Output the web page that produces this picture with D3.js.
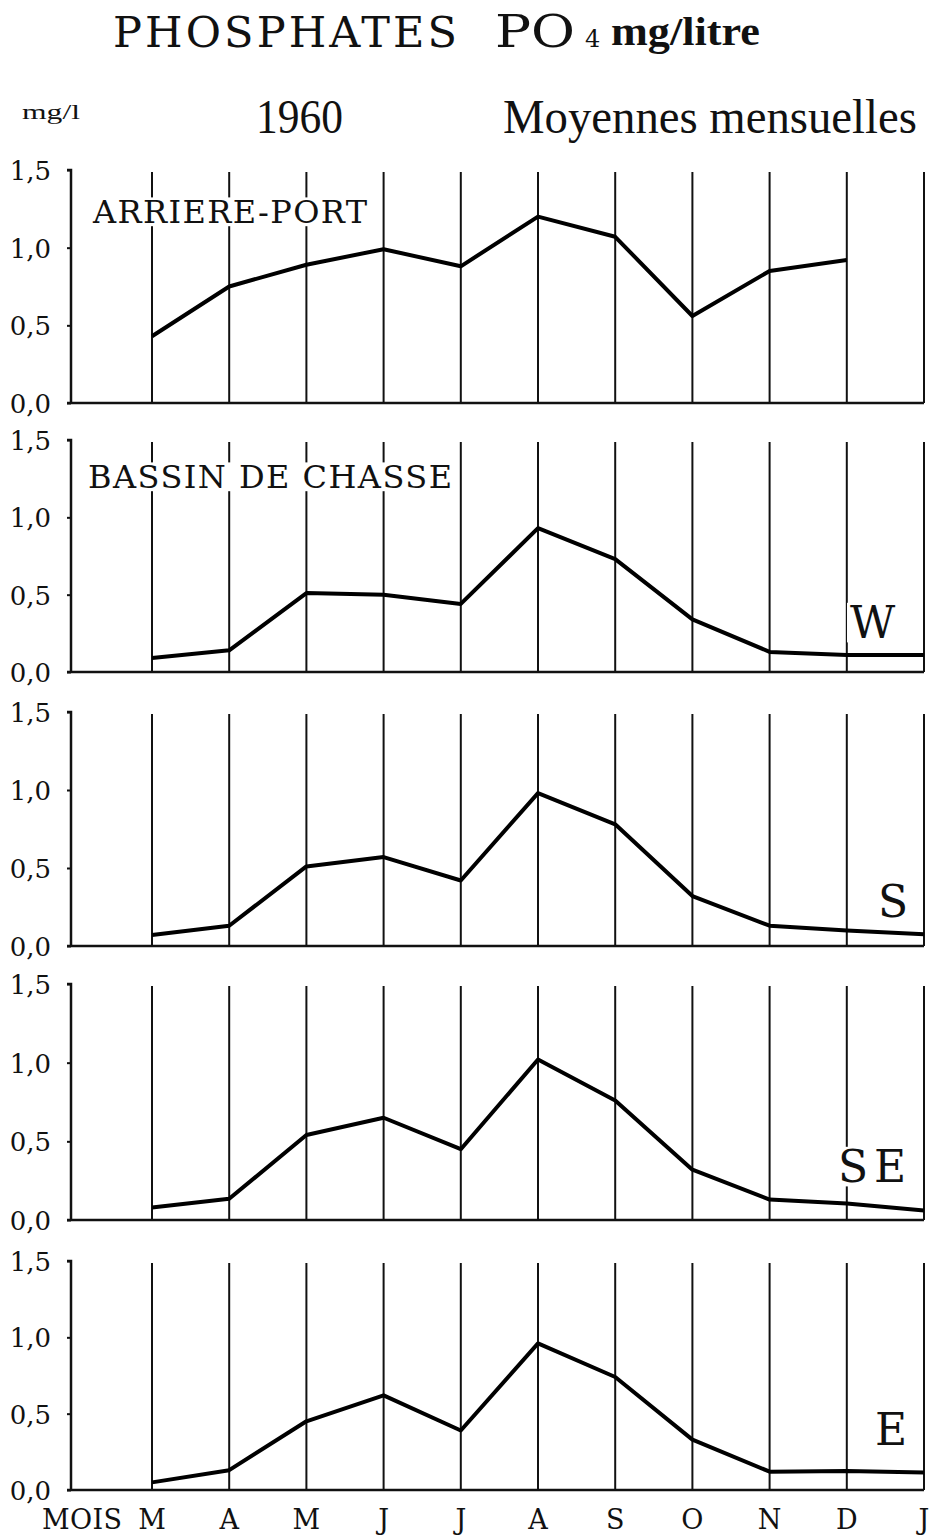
<!DOCTYPE html>
<html>
<head>
<meta charset="utf-8">
<script src="https://cdn.jsdelivr.net/npm/d3@7"></script>
<style>
  html, body { margin: 0; padding: 0; background: #fff; }
  svg { display: block; }
</style>
</head>
<body>
<svg id="chart" width="936" height="1537"></svg>
<script>
// ---------- DATA ----------
const months = ["M", "A", "M", "J", "J", "A", "S", "O", "N", "D", "J"];
const yTicks = [0, 0.5, 1.0, 1.5];
const yTickLabels = ["0,0", "0,5", "1,0", "1,5"];
const panelNames = ["ARRIERE-PORT", "W", "S", "SE", "E"];
const arrierePort = [0.43, 0.75, 0.89, 0.99, 0.88, 1.20, 1.07, 0.56, 0.85, 0.92, null];
const bassinW  = [0.09, 0.14, 0.51, 0.50, 0.44, 0.93, 0.73, 0.34, 0.13, 0.11, 0.11];
const bassinS  = [0.07, 0.13, 0.51, 0.57, 0.42, 0.98, 0.78, 0.32, 0.13, 0.10, 0.075];
const bassinSE = [0.08, 0.135, 0.54, 0.65, 0.45, 1.02, 0.76, 0.32, 0.13, 0.105, 0.06];
const bassinE  = [0.05, 0.13, 0.45, 0.62, 0.39, 0.96, 0.74, 0.33, 0.12, 0.125, 0.115];
const series = [arrierePort, bassinW, bassinS, bassinSE, bassinE];

// ---------- LAYOUT ----------
const svg = d3.select("#chart");
const serif = "'DejaVu Serif', serif";
const times = "'Liberation Serif', serif";
const axisX = 71;
const x = d3.scaleLinear().domain([0, months.length - 1]).range([152, 924]);
const panelTops = [170, 440, 712, 984, 1261];
const panelBottoms = [403, 672, 946, 1220, 1490];

// ---------- TITLES ----------
const title = svg.append("g").attr("fill", "#111");
title.append("text").attr("x", 113).attr("y", 47).attr("font-family", serif)
  .attr("font-size", 43).attr("textLength", 344).attr("lengthAdjust", "spacing").text("PHOSPHATES");
title.append("text").attr("x", 495).attr("y", 47).attr("font-family", serif)
  .attr("font-size", 45).attr("textLength", 80).attr("lengthAdjust", "spacingAndGlyphs").text("PO");
title.append("text").attr("x", 585).attr("y", 47).attr("font-family", serif)
  .attr("font-size", 24).text("4");
title.append("text").attr("x", 611).attr("y", 45).attr("font-family", times)
  .attr("font-size", 41).attr("font-weight", "bold").attr("textLength", 149)
  .attr("lengthAdjust", "spacingAndGlyphs").text("mg/litre");
title.append("text").attr("x", 22).attr("y", 119).attr("font-family", times)
  .attr("font-size", 21).attr("textLength", 58).attr("lengthAdjust", "spacingAndGlyphs").text("mg/l");
title.append("text").attr("x", 256).attr("y", 133).attr("font-family", times)
  .attr("font-size", 48).attr("textLength", 87).attr("lengthAdjust", "spacingAndGlyphs").text("1960");
title.append("text").attr("x", 503).attr("y", 133).attr("font-family", times)
  .attr("font-size", 48).attr("textLength", 414).attr("lengthAdjust", "spacingAndGlyphs").text("Moyennes mensuelles");

// ---------- PANELS ----------
series.forEach((vals, i) => {
  const top = panelTops[i];
  const y = d3.scaleLinear().domain([0, 1.5]).range([panelBottoms[i], top]);
  const g = svg.append("g");

  // vertical month lines
  g.selectAll("line.grid").data(months).join("line").attr("class", "grid")
    .attr("x1", (d, k) => x(k)).attr("x2", (d, k) => x(k))
    .attr("y1", y(1.5) + 2).attr("y2", y(0))
    .attr("stroke", "#111").attr("stroke-width", 2);

  // y axis
  const axis = d3.axisLeft(y).tickValues(yTicks).tickSize(4).tickPadding(16)
    .tickFormat((d, k) => yTickLabels[k]);
  const ag = g.append("g").attr("transform", `translate(${axisX},0)`).call(axis);
  ag.select(".domain").attr("stroke", "#111").attr("stroke-width", 2.5)
    .attr("d", `M-4,${y(1.5)}H0V${y(0)}`);
  ag.selectAll(".tick line").attr("stroke", "#111").attr("stroke-width", 2);
  ag.selectAll(".tick text").attr("font-family", serif).attr("font-size", 26)
    .attr("fill", "#111").attr("dy", "0.36em");

  // baseline
  g.append("line").attr("x1", axisX - 4).attr("x2", x(months.length - 1))
    .attr("y1", y(0)).attr("y2", y(0)).attr("stroke", "#111").attr("stroke-width", 2.5);

  // labels with white background
  const lg = g.append("g");
  const addLabel = (txt, lx, ly, size, len) => {
    const t = lg.append("text").attr("x", lx).attr("y", ly).attr("font-family", serif)
      .attr("font-size", size).attr("fill", "#111").attr("textLength", len)
      .attr("lengthAdjust", "spacing").text(txt);
    const bb = t.node().getBBox();
    lg.append("rect").attr("x", bb.x - 3).attr("y", ly - size * 0.8)
      .attr("width", bb.width + 6).attr("height", size * 0.9).attr("fill", "#ffffff");
    t.raise();
  };
  if (i === 0) addLabel(panelNames[0], 93, top + 53, 32, 274);
  if (i === 1) addLabel("BASSIN DE CHASSE", 88, top + 48, 32, 364);
  if (i === 1) addLabel(panelNames[1], 850, top + 198, 44, 55);
  if (i === 2) addLabel(panelNames[2], 878, top + 205, 44, 26);
  if (i === 3) addLabel(panelNames[3], 838, top + 198, 44, 68);
  if (i === 4) addLabel(panelNames[4], 875, top + 184, 44, 28);

  // data line
  const line = d3.line().defined(d => d != null)
    .x((d, k) => x(k)).y(d => y(d));
  g.append("path").datum(vals).attr("d", line)
    .attr("fill", "none").attr("stroke", "#000").attr("stroke-width", 4)
    .attr("stroke-linejoin", "round");
});

// ---------- MONTH LABELS ----------
const bottom = panelBottoms[panelBottoms.length - 1];
svg.append("text").attr("x", 42).attr("y", bottom + 39).attr("font-family", serif)
  .attr("font-size", 27).attr("fill", "#111").attr("textLength", 80)
  .attr("lengthAdjust", "spacing").text("MOIS");
svg.selectAll("text.month").data(months).join("text").attr("class", "month")
  .attr("x", (d, k) => x(k)).attr("y", bottom + 39).attr("text-anchor", "middle")
  .attr("font-family", serif).attr("font-size", 27).attr("fill", "#111").text(d => d);
</script>
</body>
</html>
